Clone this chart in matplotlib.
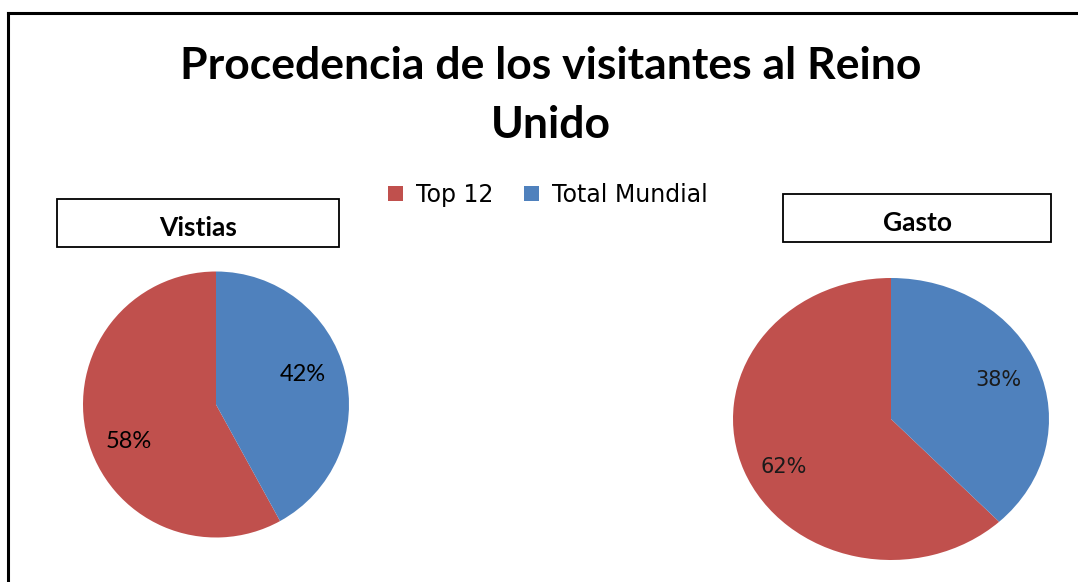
import matplotlib
matplotlib.use("Agg")
import matplotlib.pyplot as plt
from matplotlib.patches import Rectangle
from matplotlib.lines import Line2D

# ---- data ----
categories = ["Top 12", "Total Mundial"]
visitas = [58, 42]
gasto = [62, 38]
colors = ["#C0504D", "#4F81BD"]
title_lines = ["Procedencia de los visitantes al Reino", "Unido"]
panel_titles = ["Vistias", "Gasto"]

W, H = 1078, 582
fig = plt.figure(figsize=(W / 100, H / 100), dpi=100)
fig.patch.set_facecolor("white")

def px_ax(x0, y0, x1, y1):
    # pixel box (top-left origin) -> figure axes
    return fig.add_axes([x0 / W, 1 - y1 / H, (x1 - x0) / W, (y1 - y0) / H])

def fx(x):
    return x / W

def fy(y):
    return 1 - y / H

# outer frame (left and top edges visible)
fig.add_artist(Line2D([fx(8), fx(8)], [fy(13), fy(600)], color="black", lw=2.2,
                      transform=fig.transFigure))
fig.add_artist(Line2D([fx(8), fx(1090)], [fy(13), fy(13)], color="black", lw=2.2,
                      transform=fig.transFigure))

# title
fig.text(fx(551), fy(79), title_lines[0], ha="center", va="baseline",
         fontsize=32, fontweight="bold", family="Lato")
fig.text(fx(551), fy(138), title_lines[1], ha="center", va="baseline",
         fontsize=32, fontweight="bold", family="Lato")

# panel title boxes
boxes = [(57, 199, 339, 247), (783, 194, 1051, 242)]
for (x0, y0, x1, y1), t in zip(boxes, panel_titles):
    fig.add_artist(Rectangle((fx(x0), fy(y1)), fx(x1) - fx(x0), fy(y0) - fy(y1),
                             transform=fig.transFigure, facecolor="white",
                             edgecolor="black", lw=1.3))
    fig.text((fx(x0) + fx(x1)) / 2, (fy(y0) + fy(y1)) / 2 - 0.009, t,
             ha="center", va="center", fontsize=19, fontweight="bold",
             family="Lato")

# left pie
ax1 = px_ax(83, 271.5, 349, 537.5)
w1, _, at1 = ax1.pie(visitas, colors=colors, startangle=90, counterclock=True,
                     autopct="%1.0f%%", pctdistance=0.72,
                     wedgeprops=dict(linewidth=0),
                     textprops=dict(fontsize=17, family="Lato", color="black"))
ax1.set_aspect("auto")
ax1.set_xlim(-1, 1)
ax1.set_ylim(-1, 1)
label_shift1 = [(0.04, -0.10), (-0.045, 0.045)]
for t, (dx, dy) in zip(at1, label_shift1):
    x, y = t.get_position()
    t.set_position((x + dx, y + dy))

# right pie
ax2 = px_ax(733, 278, 1049, 560)
w2, _, at2 = ax2.pie(gasto, colors=colors, startangle=90, counterclock=True,
                     autopct="%1.0f%%", pctdistance=0.75,
                     wedgeprops=dict(linewidth=0),
                     textprops=dict(fontsize=15, family="DejaVu Sans", color="#1a1a1a"))
ax2.set_aspect("auto")
ax2.set_xlim(-1, 1)
ax2.set_ylim(-1, 1)
label_shift2 = [(0.02, -0.065), (-0.02, 0.0)]
for t, (dx, dy) in zip(at2, label_shift2):
    x, y = t.get_position()
    t.set_position((x + dx, y + dy))

# legend
fig.legend(w1, categories, loc="center", bbox_to_anchor=(fx(548), fy(195)),
           ncol=2, frameon=False, handlelength=0.62,
           handleheight=0.62, handletextpad=0.55, columnspacing=1.3,
           prop=dict(family="DejaVu Sans", size=17))

fig.savefig("out.png", dpi=100, facecolor="white")
